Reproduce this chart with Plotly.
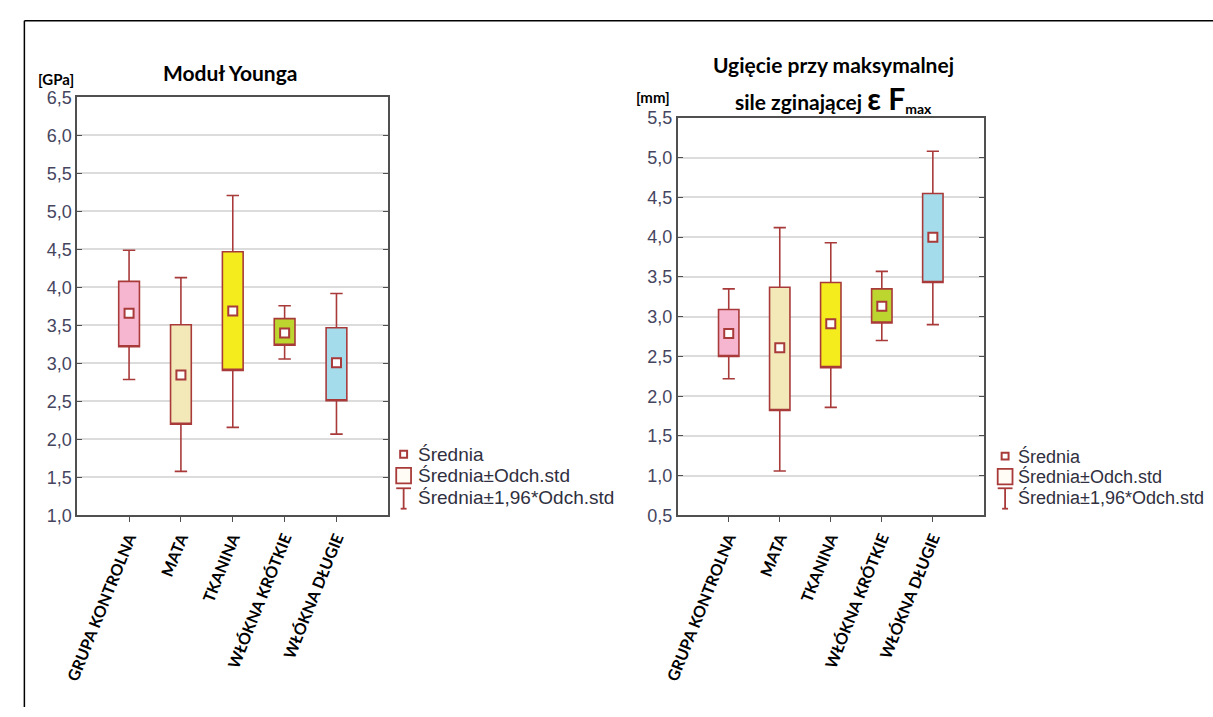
import plotly.graph_objects as go

W, H = 1213, 717

categories = ["GRUPA KONTROLNA", "MATA", "TKANINA", "WŁÓKNA KRÓTKIE", "WŁÓKNA DŁUGIE"]
fill_colors = ["#F7B6CF", "#F2E8B8", "#F5EC1E", "#BCD52F", "#A5DCEB"]

# Moduł Younga [GPa]
young_mean = [3.66, 2.85, 3.69, 3.40, 3.01]
young_sd_low = [3.22, 2.20, 2.91, 3.24, 2.51]
young_sd_high = [4.08, 3.51, 4.47, 3.59, 3.47]
young_ci_low = [2.79, 1.58, 2.16, 3.06, 2.07]
young_ci_high = [4.49, 4.13, 5.21, 3.76, 3.92]

# Ugięcie [mm]
defl_mean = [2.79, 2.61, 2.91, 3.13, 4.00]
defl_sd_low = [2.50, 1.82, 2.36, 2.92, 3.43]
defl_sd_high = [3.09, 3.37, 3.43, 3.35, 4.55]
defl_ci_low = [2.22, 1.06, 1.86, 2.70, 2.90]
defl_ci_high = [3.35, 4.12, 3.93, 3.57, 5.08]

EDGE = "#A83A3A"
TICKC = "#454560"

def px(x):
    return x / W

def py(y):
    return 1 - y / H

fig = go.Figure()

def add_panel(xa, ya, mean, sdl, sdh, cil, cih):
    for i in range(len(categories)):
        fig.add_trace(go.Box(
            x=[i], q1=[sdl[i]], median=[sdl[i]], q3=[sdh[i]],
            lowerfence=[cil[i]], upperfence=[cih[i]],
            fillcolor=fill_colors[i], line=dict(color=EDGE, width=1.6),
            width=0.4, whiskerwidth=0.6, boxpoints=False,
            xaxis=xa, yaxis=ya, showlegend=False, hoverinfo="skip",
        ))
    fig.add_trace(go.Scatter(
        x=list(range(len(categories))), y=mean, mode="markers",
        marker=dict(symbol="square", size=9, color="white",
                    line=dict(color=EDGE, width=2)),
        xaxis=xa, yaxis=ya, showlegend=False, hoverinfo="skip",
    ))

add_panel("x", "y", young_mean, young_sd_low, young_sd_high, young_ci_low, young_ci_high)
add_panel("x2", "y2", defl_mean, defl_sd_low, defl_sd_high, defl_ci_low, defl_ci_high)

xaxis_common = dict(
    range=[-1, 5], tickvals=list(range(len(categories))), ticktext=categories,
    tickangle=-68, tickfont=dict(family="Lato", size=16, color="black", weight="bold"),
    showline=True, linecolor="#505050", linewidth=1.8, mirror=True,
    ticks="outside", ticklen=5, tickcolor="#505050", showgrid=False, zeroline=False,
    fixedrange=True,
)
yaxis_common = dict(
    tickformat=".1f", dtick=0.5,
    tickfont=dict(family="Liberation Sans", size=18, color=TICKC),
    showline=True, linecolor="#505050", linewidth=1.8, mirror="ticks",
    ticks="inside", ticklen=5, tickcolor="#505050",
    showgrid=True, gridcolor="#DCDCDC", gridwidth=1.5, zeroline=False,
    fixedrange=True,
)

fig.update_layout(
    width=W, height=H, autosize=False,
    margin=dict(l=0, r=0, t=0, b=0),
    paper_bgcolor="white", plot_bgcolor="white",
    separators=", ",
    boxmode="overlay",
    showlegend=False,
    xaxis=dict(domain=[px(63), px(378)], anchor="y", **xaxis_common),
    yaxis=dict(domain=[py(520), py(90)], anchor="x", range=[1.0, 6.5], **yaxis_common),
    xaxis2=dict(domain=[px(671), px(981)], anchor="y2", **xaxis_common),
    yaxis2=dict(domain=[py(520), py(111)], anchor="x2", range=[0.5, 5.5], **yaxis_common),
)

TF = dict(family="Lato", size=21, color="black", weight="bold")
ann = []
ann.append(dict(text="Moduł Younga", x=px(218), y=py(64), xref="paper", yref="paper",
                showarrow=False, font=TF, xanchor="center", yanchor="middle"))
ann.append(dict(text="Ugięcie przy maksymalnej", x=px(829), y=py(56), xref="paper", yref="paper",
                showarrow=False, font=TF, xanchor="center", yanchor="middle"))
ann.append(dict(text="sile zginającej <span style='font-size:30px'>ε F</span><span style='font-size:20px'><sub>max</sub></span>",
                x=px(829), y=py(91), xref="paper", yref="paper",
                showarrow=False, font=TF, xanchor="center", yanchor="middle"))
ann.append(dict(text="[GPa]", x=px(21), y=py(71), xref="paper", yref="paper",
                showarrow=False, font=dict(family="Lato", size=15, color="black", weight="bold"),
                xanchor="left", yanchor="middle"))
ann.append(dict(text="[mm]", x=px(627), y=py(89), xref="paper", yref="paper",
                showarrow=False, font=dict(family="Lato", size=15, color="black", weight="bold"),
                xanchor="left", yanchor="middle"))

legend_texts = ["Średnia", "Średnia±Odch.std", "Średnia±1,96*Odch.std"]
shapes = []

def add_legend(x0, ys, text_x, fsize):
    shapes.append(dict(type="rect", xref="paper", yref="paper",
                       x0=px(x0 + 3), x1=px(x0 + 10), y0=py(ys[0] + 3.5), y1=py(ys[0] - 3.5),
                       line=dict(color=EDGE, width=2), fillcolor="white"))
    shapes.append(dict(type="rect", xref="paper", yref="paper",
                       x0=px(x0 - 1), x1=px(x0 + 14), y0=py(ys[1] + 8), y1=py(ys[1] - 8),
                       line=dict(color=EDGE, width=1.8), fillcolor="#FFFBF5"))
    cx = x0 + 6.5
    shapes.append(dict(type="line", xref="paper", yref="paper",
                       x0=px(cx), x1=px(cx), y0=py(ys[2] - 10), y1=py(ys[2] + 11),
                       line=dict(color=EDGE, width=1.8)))
    shapes.append(dict(type="line", xref="paper", yref="paper",
                       x0=px(x0 - 1), x1=px(x0 + 14), y0=py(ys[2] - 10), y1=py(ys[2] - 10),
                       line=dict(color=EDGE, width=1.8)))
    shapes.append(dict(type="line", xref="paper", yref="paper",
                       x0=px(cx - 3), x1=px(cx + 3), y0=py(ys[2] + 11), y1=py(ys[2] + 11),
                       line=dict(color=EDGE, width=1.8)))
    for t, yy in zip(legend_texts, ys):
        ann.append(dict(text=t, x=px(text_x), y=py(yy), xref="paper", yref="paper",
                        showarrow=False, font=dict(family="Liberation Sans", size=fsize, color="#303040"),
                        xanchor="left", yanchor="middle"))

add_legend(387, [457, 479, 502], 406, 19)
add_legend(996, [459, 480, 502], 1014, 18)

shapes.append(dict(type="line", xref="paper", yref="paper", x0=px(9.5), x1=1, y0=py(11), y1=py(11),
                   line=dict(color="black", width=1.5)))
shapes.append(dict(type="line", xref="paper", yref="paper", x0=px(9.5), x1=px(9.5), y0=py(11), y1=0,
                   line=dict(color="black", width=1.5)))

fig.update_layout(annotations=ann, shapes=shapes)

fig.write_html("out.html", config={"displayModeBar": False},
               post_script="document.body.style.margin='0';document.body.style.overflow='hidden';")
